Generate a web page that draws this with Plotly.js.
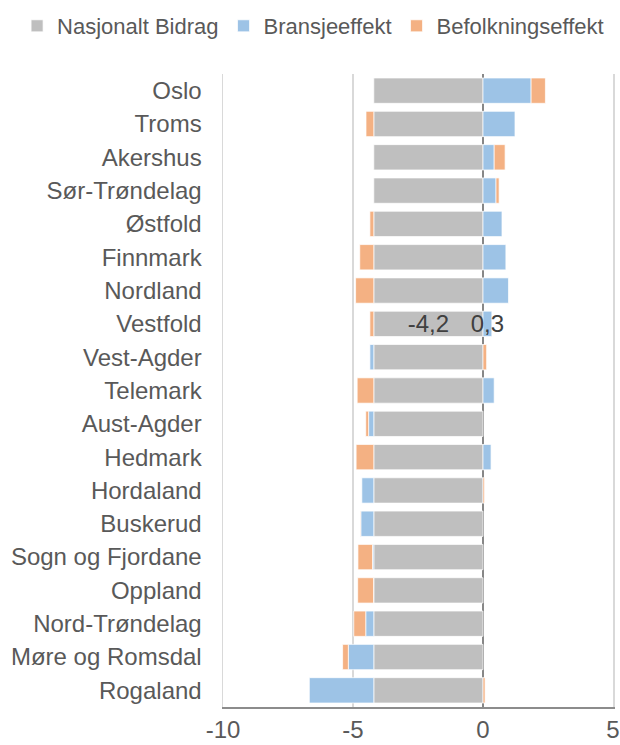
<!DOCTYPE html>
<html>
<head>
<meta charset="utf-8">
<script src="https://cdn.plot.ly/plotly-3.0.1.min.js"></script>
<style>html,body{margin:0;padding:0;background:#fff;}#chart{width:620px;height:745px;}</style>
</head>
<body>
<div id="chart"></div>
<script>
const regions = ["Oslo","Troms","Akershus","Sør-Trøndelag","Østfold","Finnmark","Nordland","Vestfold","Vest-Agder","Telemark","Aust-Agder","Hedmark","Hordaland","Buskerud","Sogn og Fjordane","Oppland","Nord-Trøndelag","Møre og Romsdal","Rogaland"];
const nasjonaltBidrag = [-4.2,-4.2,-4.2,-4.2,-4.2,-4.2,-4.2,-4.2,-4.2,-4.2,-4.2,-4.2,-4.2,-4.2,-4.2,-4.2,-4.2,-4.2,-4.2];
const bransjeeffekt = [1.85,1.23,0.43,0.50,0.73,0.88,0.98,0.34,-0.15,0.43,-0.20,0.31,-0.46,-0.50,-0.05,-0.01,-0.31,-0.98,-2.48];
const befolkningseffekt = [0.55,-0.30,0.42,0.12,-0.15,-0.54,-0.70,-0.15,0.14,-0.64,-0.11,-0.68,0.06,-0.02,-0.56,-0.61,-0.46,-0.22,0.08];
const labelledRegion = "Vestfold";
const xTickVals = [-10,-5,0,5];
const xTickText = ["-10","-5","0","5"];

function labels(values){
  return values.map((v,i)=> regions[i]===labelledRegion ? v.toFixed(1).replace('.',',') : '');
}

const font = "Liberation Sans, Arial, sans-serif";
const edge = {color:'rgba(255,255,255,0.7)', width:1};
const common = {type:'bar', orientation:'h', y:regions, textposition:'inside', insidetextanchor:'middle', constraintext:'none', textangle:0, cliponaxis:false, textfont:{family:font,size:24,color:'#404040'}, hoverinfo:'x+y+name'};

const traces = [
  Object.assign({}, common, {name:'Nasjonalt Bidrag', x:nasjonaltBidrag, text:labels(nasjonaltBidrag), marker:{color:'#BFBFBF', line:edge}}),
  Object.assign({}, common, {name:'Bransjeeffekt', x:bransjeeffekt, text:labels(bransjeeffekt), marker:{color:'#9DC3E6', line:edge}}),
  Object.assign({}, common, {name:'Befolkningseffekt', x:befolkningseffekt, textposition:'none', marker:{color:'#F4B183', line:edge}})
];

const layout = {
  width:620, height:745,
  margin:{l:223, r:7, t:74, b:38, pad:0, autoexpand:false},
  paper_bgcolor:'#fff', plot_bgcolor:'#fff',
  barmode:'relative', bargap:0.24,
  font:{family:font, size:24, color:'#595959'},
  showlegend:true,
  legend:{orientation:'h', xref:'paper', yref:'paper', x:-0.528, y:1.109, xanchor:'left', yanchor:'top', font:{family:font,size:22,color:'#595959'}, traceorder:'normal', itemclick:false},
  xaxis:{range:[-10,5], tickvals:xTickVals, ticktext:xTickText, showgrid:true, gridcolor:'#D9D9D9', gridwidth:1.5, zeroline:true, zerolinecolor:'#878787', zerolinewidth:2, showline:true, linecolor:'#8C8C8C', linewidth:2, ticks:'', tickfont:{family:font,size:24,color:'#595959'}, fixedrange:true},
  yaxis:{autorange:'reversed', type:'category', showgrid:false, zeroline:false, showline:true, mirror:true, linecolor:'#D9D9D9', linewidth:1.5, ticks:'', ticklabelstandoff:15, tickfont:{family:font,size:24,color:'#595959'}, fixedrange:true}
};

Plotly.newPlot('chart', traces, layout, {displayModeBar:false, staticPlot:true});
</script>
</body>
</html>
